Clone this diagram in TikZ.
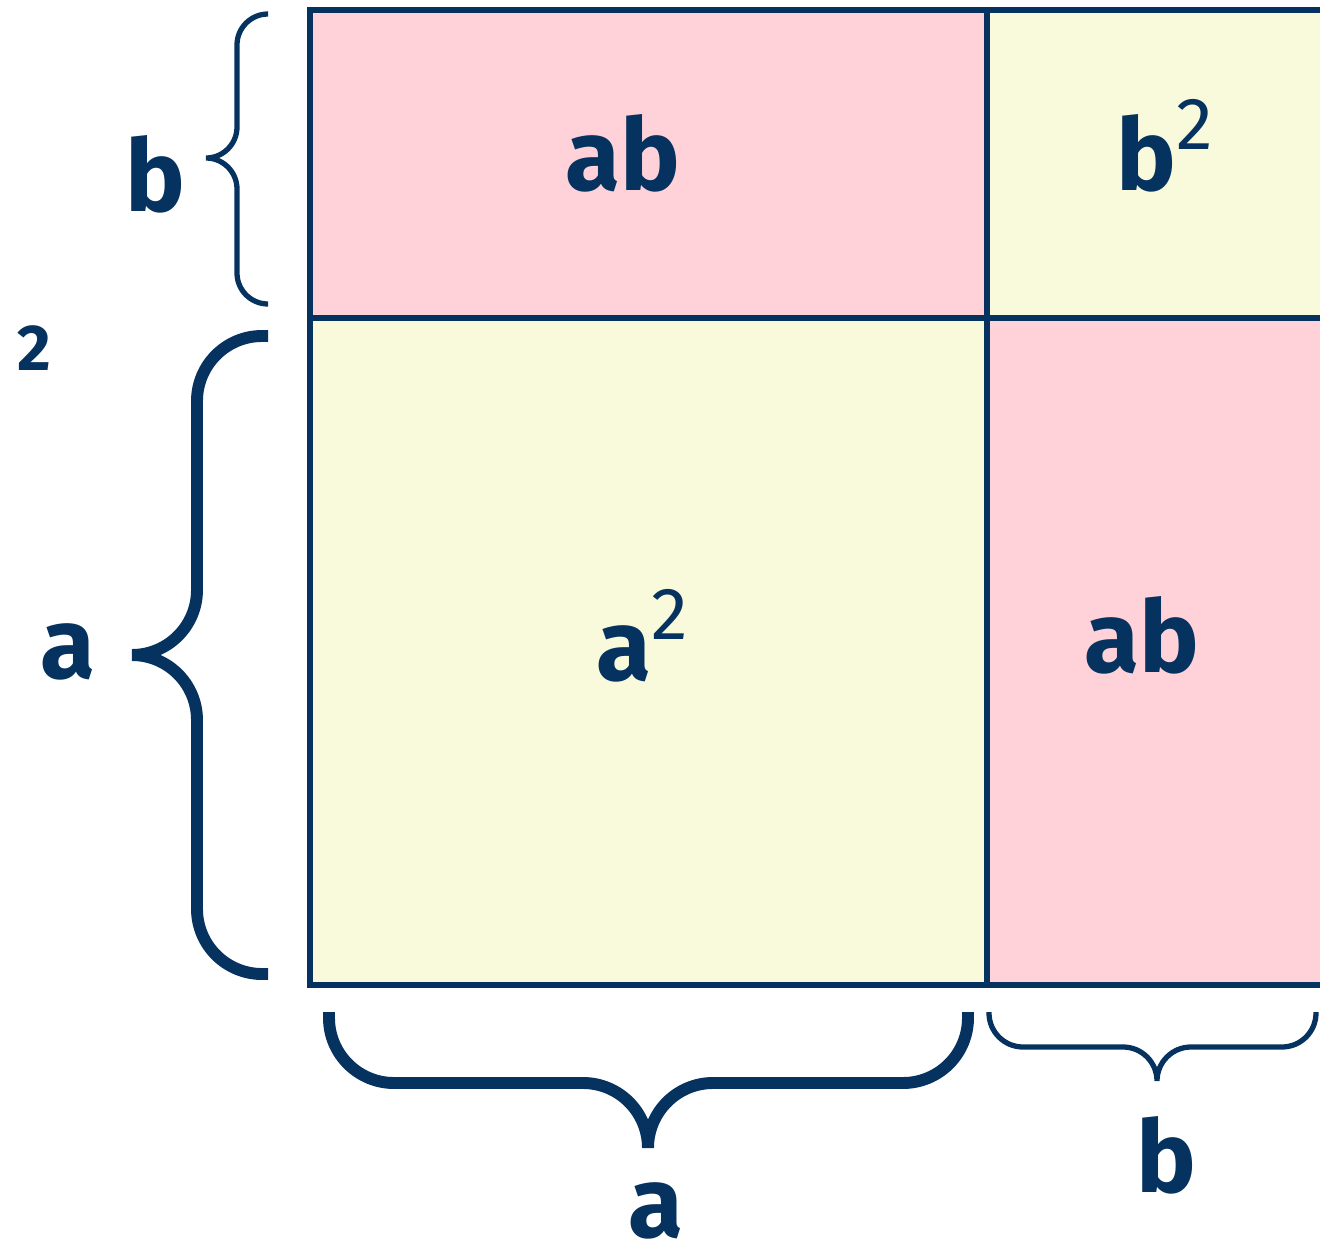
\documentclass[tikz,border=0pt]{standalone}
\usepackage{fontspec}
\setmainfont{Fira Sans}
\usetikzlibrary{positioning}
\definecolor{navy}{HTML}{06325F}
\definecolor{pinkcell}{HTML}{FFD1D8}
\definecolor{yellowcell}{HTML}{F9F9DC}
\newcommand{\sqtwo}{\raisebox{23pt}{\fontsize{42}{42}\selectfont\mdseries 2}}
\tikzset{
  lbl/.style={text=navy,font=\fontsize{57}{60}\selectfont\bfseries,inner sep=0pt,anchor=base},
  frame/.style={draw=navy,line width=3.4pt},
  bracethin/.style={draw=navy,line width=3pt,rounded corners=#1},
  bracethick/.style={draw=navy,line width=6.8pt,rounded corners=#1}
}

\begin{document}
\begin{tikzpicture}[x=0.02cm,y=-0.02cm]
  \useasboundingbox (0,0) rectangle (1320,1251);
  \clip (0,0) rectangle (1320,1251);
  % cells
  \fill[pinkcell]   (310,10)  rectangle (987,318);
  \fill[yellowcell] (987,10)  rectangle (1340,318);
  \fill[yellowcell] (310,318) rectangle (987,985);
  \fill[pinkcell]   (987,318) rectangle (1340,985);
  \draw[frame] (310,10) rectangle (1340,985);
  \draw[frame] (987,10) -- (987,985) (310,318) -- (1340,318);

  % braces
  \coordinate (bHigh) at (268,14);
  \coordinate (bLow)  at (268,304);
  \coordinate (bTip)  at (208,158);
  \draw[bracethin=0.62cm] (bHigh) -- (237,14) -- (237,158) -- (bTip)
                           (bTip) -- (237,158) -- (237,304) -- (bLow);
  \coordinate (aHigh) at (268,336);
  \coordinate (aLow)  at (268,974);
  \coordinate (aTip)  at (136,655);
  \draw[bracethick=1.3cm] (aHigh) -- (197,336) -- (197,655) -- (aTip)
                           (aTip) -- (197,655) -- (197,974) -- (aLow);
  \coordinate (aLeft)  at (329,1012);
  \coordinate (aRight) at (968,1012);
  \coordinate (aDown)  at (648,1143);
  \draw[bracethick=1.3cm] (aLeft) -- (329,1083) -- (648,1083) -- (aDown)
                           (aDown) -- (648,1083) -- (968,1083) -- (aRight);
  \coordinate (bLeft)  at (989,1012);
  \coordinate (bRight) at (1316,1012);
  \coordinate (bDown)  at (1157,1080);
  \draw[bracethin=0.68cm] (bLeft) -- (989,1047) -- (1157,1047) -- (bDown)
                           (bDown) -- (1157,1047) -- (1316,1047) -- (bRight);

  % labels
  \node[lbl] (abTop) at (623,190) {ab};
  \node[lbl,anchor=base west] (bSquare) at (1116,190) {b\sqtwo};
  \node[lbl,anchor=base west] (aSquare) at (596,680) {a\sqtwo};
  \node[lbl] (abRight) at (1142,672) {ab};
  \node[lbl] (sideB) at (155,211) {b};
  \node[lbl] (sideA) at (68,678) {a};
  \node[lbl,font=\fontsize{37}{37}\selectfont\bfseries] (two) at (34,370) {2};
  \node[lbl] (baseA) at (656,1237) {a};
  \node[lbl] (baseB) at (1166,1192) {b};
\end{tikzpicture}
\end{document}
